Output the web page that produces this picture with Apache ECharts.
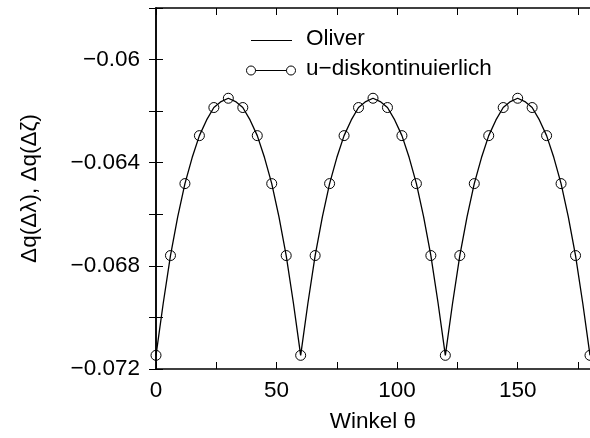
<!DOCTYPE html>
<html>
<head>
<meta charset="utf-8">
<script src="https://cdn.jsdelivr.net/npm/echarts@6/dist/echarts.min.js"></script>
<style>
html,body{margin:0;padding:0;background:#fff;}
#chart{width:590px;height:438px;}
</style>
</head>
<body>
<div id="chart"></div>
<script>
// ---- data ----
const oliverTheta = [0,3,6,9,12,15,18,21,24,27,30,33,36,39,42,45,48,51,54,57,60,
  63,66,69,72,75,78,81,84,87,90,93,96,99,102,105,108,111,114,117,120,
  123,126,129,132,135,138,141,144,147,150,153,156,159,162,165,168,171,174,177,180];
const oliverValues = [
  -0.07147,-0.06945,-0.06760,-0.06610,-0.06481,-0.06380,-0.06295,-0.06234,-0.06186,-0.06163,-0.06150,
  -0.06163,-0.06186,-0.06234,-0.06295,-0.06380,-0.06481,-0.06610,-0.06760,-0.06945,-0.07147,
  -0.06945,-0.06760,-0.06610,-0.06481,-0.06380,-0.06295,-0.06234,-0.06186,-0.06163,-0.06150,
  -0.06163,-0.06186,-0.06234,-0.06295,-0.06380,-0.06481,-0.06610,-0.06760,-0.06945,-0.07147,
  -0.06945,-0.06760,-0.06610,-0.06481,-0.06380,-0.06295,-0.06234,-0.06186,-0.06163,-0.06150,
  -0.06163,-0.06186,-0.06234,-0.06295,-0.06380,-0.06481,-0.06610,-0.06760,-0.06945,-0.07147];
const udiskTheta = [0,6,12,18,24,30,36,42,48,54,60,66,72,78,84,90,96,102,108,114,120,
  126,132,138,144,150,156,162,168,174,180];
const udiskValues = [
  -0.07147,-0.06760,-0.06481,-0.06295,-0.06186,-0.06150,-0.06186,-0.06295,-0.06481,-0.06760,-0.07147,
  -0.06760,-0.06481,-0.06295,-0.06186,-0.06150,-0.06186,-0.06295,-0.06481,-0.06760,-0.07147,
  -0.06760,-0.06481,-0.06295,-0.06186,-0.06150,-0.06186,-0.06295,-0.06481,-0.06760,-0.07147];
const seriesNames = ['Oliver', 'u\u2212diskontinuierlich'];
const xTickValues = [0, 50, 100, 150];
const xTickLabels = ['0', '50', '100', '150'];
const yTickValues = [-0.072, -0.068, -0.064, -0.060];
const yTickLabels = ['\u22120.072', '\u22120.068', '\u22120.064', '\u22120.06'];
const xAxisTitle = 'Winkel \u03b8';
const yAxisTitle = '\u0394q(\u0394\u03bb), \u0394q(\u0394\u03b6)';

// ---- chart ----
const FONT = 'Liberation Sans, Arial, Helvetica, sans-serif';
const FS = 22.5;
function pick(vals, labels, v) {
  for (let i = 0; i < vals.length; i++) if (Math.abs(vals[i] - v) < 1e-9) return labels[i];
  return '';
}
const chart = echarts.init(document.getElementById('chart'), null, {renderer: 'canvas'});
const axisLine = {show: true, lineStyle: {color: '#000', width: 1.5}};
const tick = {show: true, inside: true, length: 7, lineStyle: {color: '#000', width: 1}};
chart.setOption({
  animation: false,
  backgroundColor: '#fff',
  textStyle: {fontFamily: FONT},
  grid: {left: 156, right: -3, top: 8, bottom: 66, containLabel: false},
  xAxis: [{
    type: 'value', min: 0, max: 180, interval: 25, position: 'bottom',
    axisLine: axisLine, axisTick: tick, splitLine: {show: false},
    axisLabel: {color: '#000', fontSize: FS, fontFamily: FONT, margin: 10,
      showMaxLabel: false, formatter: v => pick(xTickValues, xTickLabels, v)},
    name: xAxisTitle, nameLocation: 'middle', nameGap: 41,
    nameTextStyle: {color: '#000', fontSize: FS, fontFamily: FONT}
  }, {
    type: 'value', min: 0, max: 180, interval: 25, position: 'top',
    axisLine: axisLine, axisTick: tick, splitLine: {show: false},
    axisLabel: {show: false}
  }],
  yAxis: [{
    type: 'value', min: -0.072, max: -0.058, interval: 0.002, position: 'left',
    axisLine: axisLine, axisTick: tick, splitLine: {show: false},
    axisLabel: {color: '#000', fontSize: FS, fontFamily: FONT, margin: 16,
      formatter: v => pick(yTickValues, yTickLabels, v)},
    name: yAxisTitle, nameLocation: 'middle', nameGap: 115, nameRotate: 90,
    nameTextStyle: {color: '#000', fontSize: FS, fontFamily: FONT}
  }, {
    type: 'value', min: -0.072, max: -0.058, interval: 0.002, position: 'right',
    axisLine: axisLine, axisTick: tick, splitLine: {show: false},
    axisLabel: {show: false}
  }],
  series: [{
    name: seriesNames[0], type: 'line', xAxisIndex: 0, yAxisIndex: 0,
    data: oliverTheta.map((t, i) => [t, oliverValues[i]]),
    showSymbol: false, symbol: 'none', clip: false,
    lineStyle: {color: '#000', width: 1.3}
  }, {
    name: seriesNames[1], type: 'line', xAxisIndex: 0, yAxisIndex: 0,
    data: udiskTheta.map((t, i) => [t, udiskValues[i]]),
    symbol: 'circle', symbolSize: 10, clip: false,
    lineStyle: {width: 0, opacity: 0},
    itemStyle: {color: 'rgba(0,0,0,0)', borderColor: '#000', borderWidth: 1}
  }],
  graphic: [
    {type: 'line', shape: {x1: 251, y1: 40.5, x2: 292, y2: 40.5}, style: {stroke: '#000', lineWidth: 1}},
    {type: 'text', left: 306, top: 40 - 13, style: {text: seriesNames[0], fill: '#000', font: FS + 'px ' + FONT}},
    {type: 'line', shape: {x1: 251, y1: 70.5, x2: 291, y2: 70.5}, style: {stroke: '#000', lineWidth: 1}},
    {type: 'circle', shape: {cx: 251, cy: 70.5, r: 4.5}, style: {fill: '#fff', stroke: '#000', lineWidth: 1}},
    {type: 'circle', shape: {cx: 291, cy: 70.5, r: 4.5}, style: {fill: '#fff', stroke: '#000', lineWidth: 1}},
    {type: 'text', left: 306, top: 70 - 13, style: {text: seriesNames[1], fill: '#000', font: FS + 'px ' + FONT}}
  ]
});
</script>
</body>
</html>
